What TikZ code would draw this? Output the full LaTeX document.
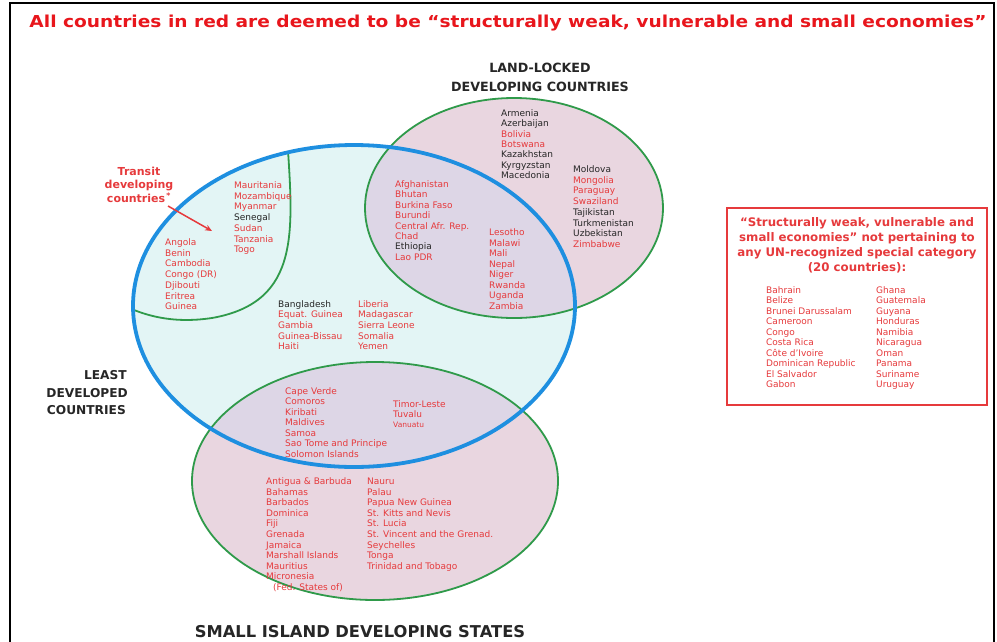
\documentclass[tikz,border=0pt]{standalone}
\usepackage{fontspec}
\setmainfont{DejaVu Sans}
\usetikzlibrary{arrows.meta}
\definecolor{R}{HTML}{E63A3C}
\definecolor{K}{HTML}{262626}
\definecolor{titlered}{HTML}{E8161C}
\definecolor{ldcblue}{HTML}{1E8FE0}
\definecolor{ldcfill}{HTML}{E3F5F5}
\definecolor{grn}{HTML}{2F9A4A}
\definecolor{pinkfill}{HTML}{E9D6E0}
\definecolor{lapfill}{HTML}{DDD6E6}
\tikzset{
  lst/.style={anchor=base west, inner sep=0pt, font=\fontsize{9}{10.5}\selectfont},
  biglbl/.style={anchor=base, inner sep=0pt, text=K, font=\bfseries\fontsize{12.7}{15}\selectfont},
  hdr/.style={anchor=base, inner sep=0pt, text=R, font=\bfseries\fontsize{11.8}{14}\selectfont},
  trn/.style={anchor=base, inner sep=0pt, text=R, font=\bfseries\fontsize{11}{14}\selectfont},
  gline/.style={draw=grn, line width=1.8pt},
  bline/.style={draw=ldcblue, line width=3.8pt},
  ldcshape/.style={x radius=221pt, y radius=161pt}
}
\newcommand\clist[5]{%
  \foreach \c/\t [count=\i from 0] in {#4} {\node[lst, text=\c] (#5\i) at (#1, {#2+\i*#3}) {\t};}}
\begin{document}
\begin{tikzpicture}[x=1pt,y=-1pt]
\useasboundingbox (0,0) rectangle (997,641);
\fill[white] (0,0) rectangle (997,641);
% frame
\draw[black, line width=1.2pt] (10,645) -- (10,3) -- (994,3) -- (994,645);
% title
\node[anchor=base, inner sep=0pt, text=titlered] (title) at (508,27.5)
  {\resizebox{957pt}{12.5pt}{\bfseries All countries in red are deemed to be “structurally weak, vulnerable and small economies”}};
% fills
\fill[ldcfill] (354,306) ellipse [ldcshape];
\fill[pinkfill] (514,208) ellipse [x radius=149pt, y radius=110pt];
\fill[pinkfill] (375,481) ellipse [x radius=183pt, y radius=119pt];
\begin{scope}
  \clip (354,306) ellipse [ldcshape];
  \fill[lapfill] (514,208) ellipse [x radius=149pt, y radius=110pt];
  \fill[lapfill] (375,481) ellipse [x radius=183pt, y radius=119pt];
  \draw[gline] (287,135) .. controls (293,230) and (302,302) .. (212,318)
     .. controls (172,324) and (140,316) .. (110,298);
\end{scope}
\draw[gline] (514,208) ellipse [x radius=149pt, y radius=110pt];
\draw[gline] (375,481) ellipse [x radius=183pt, y radius=119pt];
\draw[bline] (354,306) ellipse [ldcshape];
% labels
\node[biglbl] (ll1) at (540,72.5) {LAND-LOCKED};
\node[biglbl] (ll2) at (540,91.5) {DEVELOPING COUNTRIES};
\node[biglbl, anchor=base east, font=\bfseries\fontsize{12.2}{15}\selectfont] (ld1) at (127,379.5) {LEAST};
\node[biglbl, anchor=base east, font=\bfseries\fontsize{12.2}{15}\selectfont] (ld2) at (128,397) {DEVELOPED};
\node[biglbl, anchor=base east, font=\bfseries\fontsize{12.2}{15}\selectfont] (ld3) at (126,414.5) {COUNTRIES};
\node[biglbl, font=\bfseries\fontsize{16.3}{18}\selectfont] (sids) at (360,637) {SMALL ISLAND DEVELOPING STATES};
% transit label and arrow
\node[trn] (t1) at (139,175) {Transit};
\node[trn] (t2) at (139,188.5) {developing};
\node[trn] (t3) at (139,202) {countries\textsuperscript{\,*}};
\coordinate (a1) at (168,206);
\coordinate (a2) at (212,231);
\draw[R, line width=1.5pt, -{Stealth[length=7pt,width=6pt]}] (a1) -- (a2);
% lists
\clist{501}{116.5}{10.3}{K/Armenia, K/Azerbaijan, R/Bolivia, R/Botswana, K/Kazakhstan, K/Kyrgyzstan, K/Macedonia}{lla}
\clist{573}{172.5}{10.7}{K/Moldova, R/Mongolia, R/Paraguay, R/Swaziland, K/Tajikistan, K/Turkmenistan, K/Uzbekistan, R/Zimbabwe}{llb}
\clist{395}{187.5}{10.4}{R/Afghanistan, R/Bhutan, R/Burkina Faso, R/Burundi, R/Central Afr. Rep., R/Chad, K/Ethiopia, R/Lao PDR}{llc}
\clist{489}{235.5}{10.5}{R/Lesotho, R/Malawi, R/Mali, R/Nepal, R/Niger, R/Rwanda, R/Uganda, R/Zambia}{lld}
\clist{234}{188.5}{10.7}{R/Mauritania, R/Mozambique, R/Myanmar, K/Senegal, R/Sudan, R/Tanzania, R/Togo}{tra}
\clist{165}{245.5}{10.7}{R/Angola, R/Benin, R/Cambodia, R/Congo (DR), R/Djibouti, R/Eritrea, R/Guinea}{trb}
\clist{278}{307}{10.7}{K/Bangladesh, R/Equat. Guinea, R/Gambia, R/Guinea-Bissau, R/Haiti}{lda}
\clist{358}{307}{10.7}{R/Liberia, R/Madagascar, R/Sierra Leone, R/Somalia, R/Yemen}{ldb}
\clist{285}{394}{10.5}{R/Cape Verde, R/Comoros, R/Kiribati, R/Maldives, R/Samoa, R/Sao Tome and Principe, R/Solomon Islands}{sa}
\clist{393}{407.5}{10}{R/Timor-Leste, R/Tuvalu}{sb}
\node[lst, text=R, font=\fontsize{7.5}{9}\selectfont] (vanuatu) at (393,427) {Vanuatu};
\clist{266}{484.5}{10.6}{R/Antigua \& Barbuda, R/Bahamas, R/Barbados, R/Dominica, R/Fiji, R/Grenada, R/Jamaica, R/Marshall Islands, R/Mauritius, R/Micronesia}{sc}
\node[lst, text=R] (fed) at (273,590.5) {(Fed. States of)};
\clist{367}{484.5}{10.6}{R/Nauru, R/Palau, R/Papua New Guinea, R/St. Kitts and Nevis, R/St. Lucia, R/St. Vincent and the Grenad., R/Seychelles, R/Tonga, R/Trinidad and Tobago}{sd}
% right box
\draw[R, line width=1.6pt] (727,208) rectangle (987,405);
\node[hdr] (h1) at (857,226) {“Structurally weak, vulnerable and};
\node[hdr] (h2) at (857,241) {small economies” not pertaining to};
\node[hdr] (h3) at (857,256) {any UN-recognized special category};
\node[hdr] (h4) at (857,271) {(20 countries):};
\clist{766}{293}{10.5}{R/Bahrain, R/Belize, R/Brunei Darussalam, R/Cameroon, R/Congo, R/Costa Rica, R/Côte d’Ivoire, R/Dominican Republic, R/El Salvador, R/Gabon}{ba}
\clist{876}{293}{10.5}{R/Ghana, R/Guatemala, R/Guyana, R/Honduras, R/Namibia, R/Nicaragua, R/Oman, R/Panama, R/Suriname, R/Uruguay}{bb}
\end{tikzpicture}
\end{document}
